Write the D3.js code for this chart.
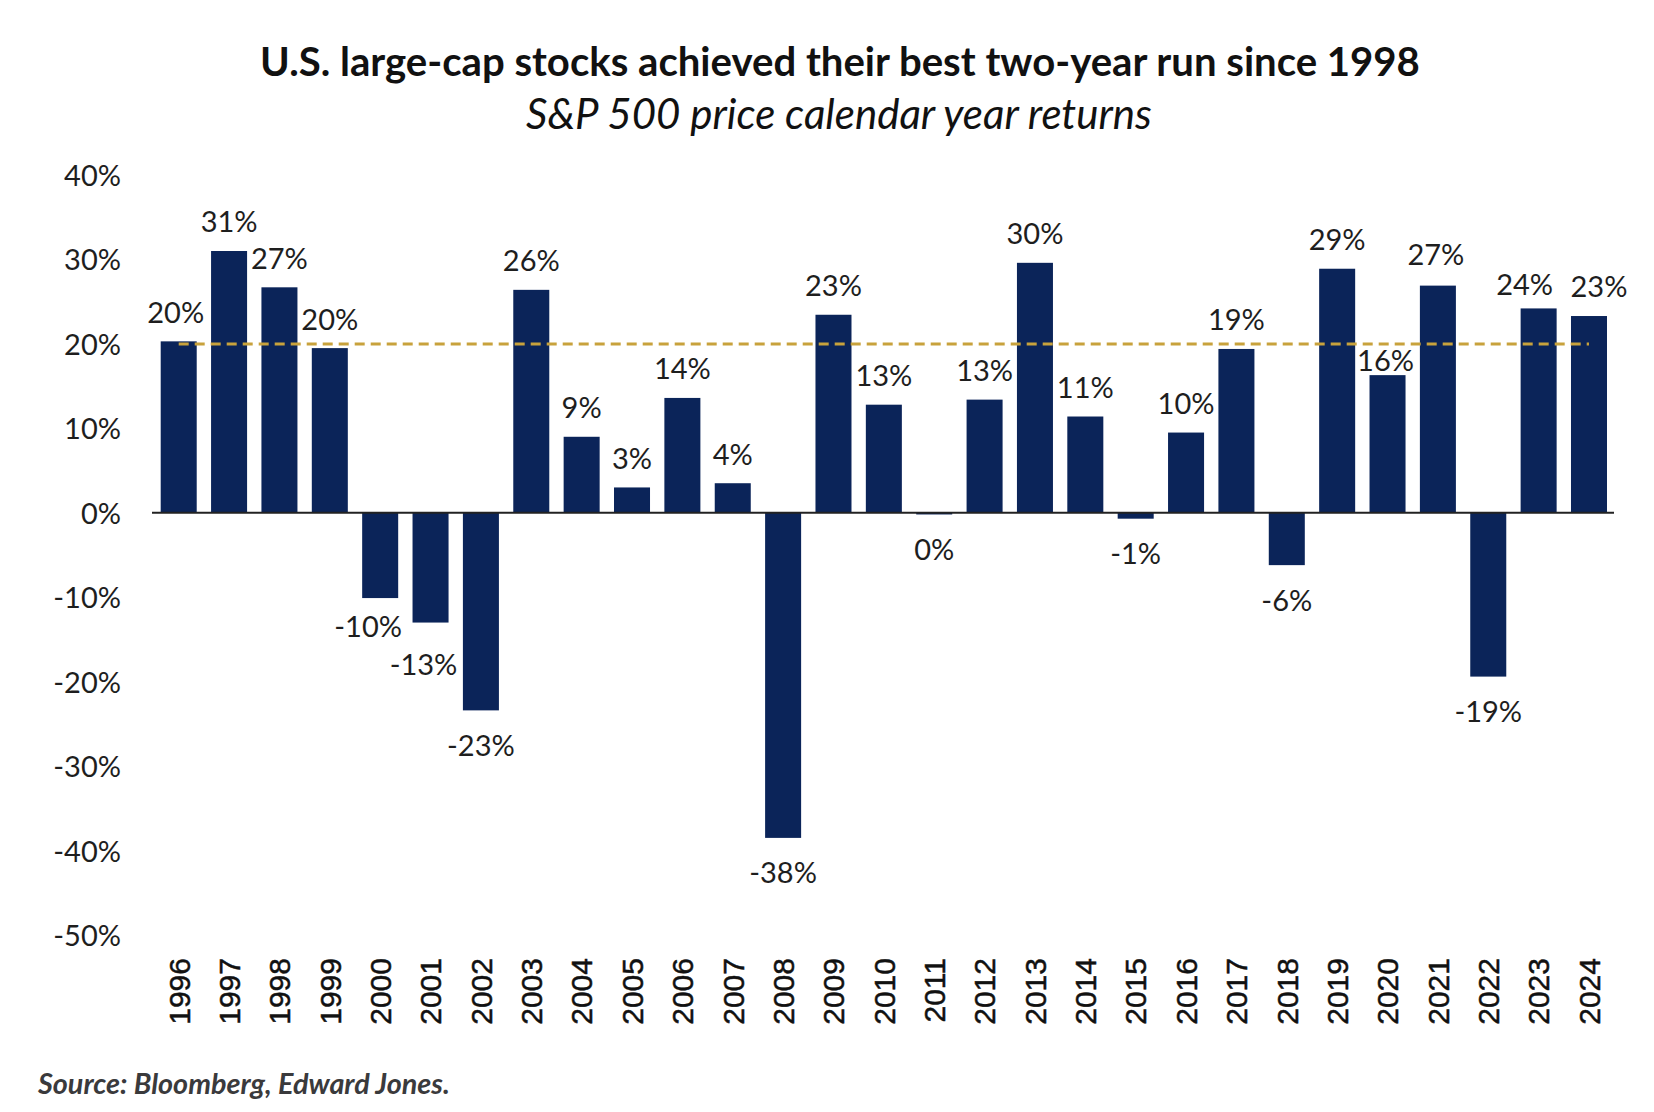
<!DOCTYPE html>
<html>
<head>
<meta charset="utf-8">
<script src="https://cdn.jsdelivr.net/npm/d3@7"></script>
<style>
  html, body { margin: 0; padding: 0; background: #ffffff; }
  svg { display: block; }
</style>
</head>
<body>
<svg id="chart" width="1654" height="1112"></svg>
<script>
// ---------- data ----------
const years = ["1996","1997","1998","1999","2000","2001","2002","2003","2004","2005",
               "2006","2007","2008","2009","2010","2011","2012","2013","2014","2015",
               "2016","2017","2018","2019","2020","2021","2022","2023","2024"];
const returns = [20.3, 31.0, 26.7, 19.5, -10.1, -13.0, -23.4, 26.4, 9.0, 3.0,
                 13.6, 3.5, -38.5, 23.45, 12.8, -0.2, 13.4, 29.6, 11.4, -0.7,
                 9.5, 19.4, -6.2, 28.9, 16.3, 26.9, -19.4, 24.2, 23.3];
const averageReturn = 20;
const yTicks = [-50, -40, -30, -20, -10, 0, 10, 20, 30, 40];
const titleText = "U.S. large-cap stocks achieved their best two-year run since 1998";
const subtitleText = "S&P 500 price calendar year returns";
const sourceText = "Source: Bloomberg, Edward Jones.";

// ---------- layout ----------
const svg = d3.select("#chart");
const x = d3.scaleBand().domain(years).range([160.7, 1607]).paddingInner(0.285).paddingOuter(0);
const y = d3.scaleLinear().domain([-50, 40]).range([935, 175]);
const barColor = "#0b2459";
const textColor = "#1e1e1e";

// label nudges (pixel adjustments for individual data labels)
const nudge = {
  "1996": [-3, 0], "2000": [-12, -7], "2001": [-7, 7], "2020": [-2, 14],
  "2023": [-14, 5], "2024": [10, 0], "2021": [-2, -2]
};

// helper: fit text to a target width
function fit(sel, targetWidth, startSize) {
  sel.attr("font-size", startSize);
  const w = sel.node().getComputedTextLength();
  sel.attr("font-size", startSize * targetWidth / w);
}

// title
const title = svg.append("text")
  .attr("x", 840).attr("y", 76)
  .attr("text-anchor", "middle")
  .attr("font-family", "Lato, 'Open Sans', sans-serif")
  .attr("font-weight", 700)
  .attr("fill", "#111")
  .text(titleText);
fit(title, 1160, 36);

const subtitle = svg.append("text")
  .attr("x", 839).attr("y", 129)
  .attr("text-anchor", "middle")
  .attr("font-family", "Lato, 'Open Sans', sans-serif")
  .attr("font-style", "italic")
  .attr("fill", "#111")
  .text(subtitleText);
fit(subtitle, 626, 32);

// y axis labels
const yAxis = d3.axisLeft(y).tickValues(yTicks).tickFormat(d => d + "%").tickSize(0).tickPadding(0);
const yg = svg.append("g").attr("transform", "translate(121,0)").call(yAxis);
yg.select(".domain").remove();
yg.selectAll("text")
  .attr("font-family", "Lato, 'Open Sans', sans-serif")
  .attr("font-size", 29)
  .attr("fill", textColor)
  .attr("dy", "0.36em");

// bars
svg.append("g").selectAll("rect")
  .data(years.map((yr, i) => ({ yr, v: returns[i] })))
  .join("rect")
  .attr("x", d => x(d.yr))
  .attr("width", x.bandwidth())
  .attr("y", d => y(Math.max(0, d.v)))
  .attr("height", d => Math.max(1, Math.abs(y(d.v) - y(0))))
  .attr("fill", barColor);

// zero baseline
svg.append("line")
  .attr("x1", 152).attr("x2", 1614)
  .attr("y1", y(0)).attr("y2", y(0))
  .attr("stroke", "#222").attr("stroke-width", 2);

// average dashed line
svg.append("line")
  .attr("x1", x(years[0]) + x.bandwidth() / 2)
  .attr("x2", x(years[years.length - 1]) + x.bandwidth() / 2)
  .attr("y1", y(averageReturn)).attr("y2", y(averageReturn))
  .attr("stroke", "#c8a23c").attr("stroke-width", 3)
  .attr("stroke-dasharray", "10,6");

// data labels
svg.append("g").selectAll("text")
  .data(years.map((yr, i) => ({ yr, v: returns[i] })))
  .join("text")
  .attr("x", d => x(d.yr) + x.bandwidth() / 2 + (nudge[d.yr] ? nudge[d.yr][0] : 0))
  .attr("y", d => (d.v >= 0 ? y(d.v) - 29 : y(d.v) + 35) + (nudge[d.yr] ? nudge[d.yr][1] : 0))
  .attr("dy", "0.36em")
  .attr("text-anchor", "middle")
  .attr("font-family", "Lato, 'Open Sans', sans-serif")
  .attr("font-size", 29)
  .attr("fill", textColor)
  .text(d => Math.round(d.v) + "%");

// x axis year labels (rotated)
const xAxis = d3.axisBottom(x).tickSize(0).tickPadding(0);
const xg = svg.append("g").attr("transform", "translate(0,958)").call(xAxis);
xg.select(".domain").remove();
xg.selectAll("text")
  .attr("font-family", "'Liberation Sans', Arial, sans-serif")
  .attr("font-size", 30)
  .attr("fill", "#111")
  .attr("stroke", "#111")
  .attr("stroke-width", 0.5)
  .attr("transform", "rotate(-90)")
  .attr("text-anchor", "end")
  .attr("x", 0).attr("y", 0)
  .attr("dy", "0.36em");

// source
const src = svg.append("text")
  .attr("x", 38).attr("y", 1094)
  .attr("font-family", "Lato, 'Open Sans', sans-serif")
  .attr("font-weight", 700)
  .attr("font-style", "italic")
  .attr("fill", "#3a3a3c")
  .text(sourceText);
fit(src, 412, 26);
</script>
</body>
</html>
